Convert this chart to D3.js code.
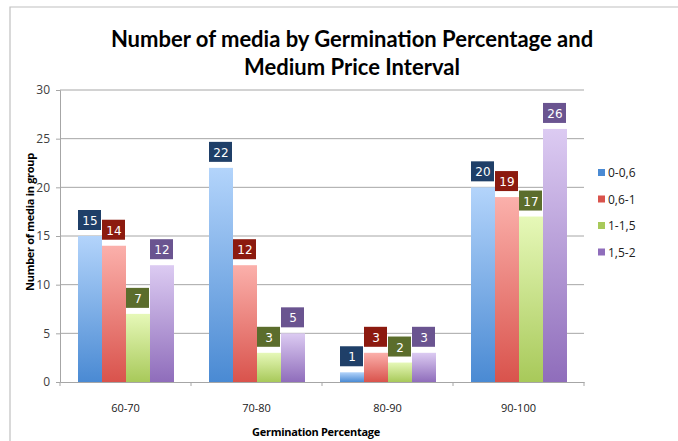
<!DOCTYPE html>
<html>
<head>
<meta charset="utf-8">
<script src="https://cdn.jsdelivr.net/npm/d3@7"></script>
<style>
  body { margin: 0; background: #ffffff; }
  svg { display: block; }
</style>
</head>
<body>
<svg id="chart" width="678" height="441"></svg>
<script>
// chart data
var categories = ["60-70", "70-80", "80-90", "90-100"];
var seriesNames = ["0-0,6", "0,6-1", "1-1,5", "1,5-2"];
var seriesValues = [
    [15, 22, 1, 20],   // 0-0,6
    [14, 12, 3, 19],   // 0,6-1
    [7, 3, 2, 17],     // 1-1,5
    [12, 5, 3, 26]     // 1,5-2
];
var yTicks = [0, 5, 10, 15, 20, 25, 30];

// colours: top of gradient, bottom of gradient, label box
var palette = [
    { top: "#b3d4fb", bottom: "#4a8ad3", box: "#1f3f68" },
    { top: "#fbb0ab", bottom: "#d9534c", box: "#8c1a0f" },
    { top: "#e6f8b8", bottom: "#a8c95a", box: "#5b6d2c" },
    { top: "#dccbf2", bottom: "#8f6dbb", box: "#6a5490" }
];

var svg = d3.select("#chart");

var margin = { left: 60, right: 94, top: 90, bottom: 59 };
var W = 678, H = 441;
var plotW = W - margin.left - margin.right;
var plotH = H - margin.top - margin.bottom;

// outer frame
svg.append("path")
    .attr("d", "M10,441 L10,7 L678,7")
    .attr("fill", "none")
    .attr("stroke", "#c0c0c0")
    .attr("stroke-width", 1.2);

// gradients
var defs = svg.append("defs");
palette.forEach(function(p, i){
    var g = defs.append("linearGradient")
        .attr("id", "grad" + i)
        .attr("x1", 0).attr("y1", 0).attr("x2", 0).attr("y2", 1);
    g.append("stop").attr("offset", "0%").attr("stop-color", p.top);
    g.append("stop").attr("offset", "100%").attr("stop-color", p.bottom);
});

// title
var title = svg.append("text")
    .attr("x", 352)
    .attr("text-anchor", "middle")
    .attr("font-family", "Lato, 'Open Sans', sans-serif")
    .attr("font-weight", "bold")
    .attr("font-size", 22)
    .attr("fill", "#000");
title.append("tspan").attr("x", 352).attr("y", 47).text("Number of media by Germination Percentage and");
title.append("tspan").attr("x", 352).attr("y", 75).text("Medium Price Interval");

var g = svg.append("g").attr("transform", "translate(" + margin.left + "," + margin.top + ")");

var x0 = d3.scaleBand().domain(categories).range([0, plotW]).paddingInner(0).paddingOuter(0);
var y = d3.scaleLinear().domain([0, 30]).range([plotH, 0]);
var x1 = d3.scaleBand().domain(d3.range(seriesNames.length))
    .range([18, x0.bandwidth() - 17]).padding(0);

// gridlines
g.selectAll(".grid")
    .data(yTicks.filter(function(d){ return d > 0; }))
    .enter().append("line")
    .attr("x1", 0).attr("x2", plotW)
    .attr("y1", function(d){ return y(d); })
    .attr("y2", function(d){ return y(d); })
    .attr("stroke", "#a6a6a6")
    .attr("stroke-width", 1);

// y axis
var yAxis = g.append("g")
    .call(d3.axisLeft(y).tickValues(yTicks).tickSize(4).tickPadding(6));
yAxis.select(".domain").attr("stroke", "#a6a6a6");
yAxis.selectAll(".tick line").attr("stroke", "#a6a6a6");
yAxis.selectAll("text")
    .attr("font-family", "'Open Sans', sans-serif")
    .attr("font-size", 12)
    .attr("fill", "#404040");

// x axis
var xAxis = g.append("g")
    .attr("transform", "translate(0," + plotH + ")")
    .call(d3.axisBottom(x0).tickSize(0).tickPadding(22));
xAxis.select(".domain").attr("stroke", "#a6a6a6");
xAxis.selectAll("text")
    .attr("font-family", "'Open Sans', sans-serif")
    .attr("font-size", 11)
    .attr("fill", "#202020");
// category boundary ticks
g.selectAll(".xtick")
    .data(d3.range(categories.length + 1))
    .enter().append("line")
    .attr("x1", function(i){ return i * x0.bandwidth(); })
    .attr("x2", function(i){ return i * x0.bandwidth(); })
    .attr("y1", plotH).attr("y2", plotH + 4)
    .attr("stroke", "#a6a6a6");

// bars + labels
seriesNames.forEach(function(name, s){
    var ser = g.append("g");
    ser.selectAll("rect.bar")
        .data(seriesValues[s])
        .enter().append("rect")
        .attr("class", "bar")
        .attr("x", function(d, i){ return x0(categories[i]) + x1(s); })
        .attr("y", function(d){ return y(d); })
        .attr("width", x1.bandwidth())
        .attr("height", function(d){ return plotH - y(d); })
        .attr("fill", "url(#grad" + s + ")");

    ser.selectAll("rect.box")
        .data(seriesValues[s])
        .enter().append("rect")
        .attr("class", "box")
        .attr("x", function(d, i){ return x0(categories[i]) + x1(s); })
        .attr("y", function(d){ return y(d) - 26; })
        .attr("width", x1.bandwidth() - 1)
        .attr("height", 20)
        .attr("fill", palette[s].box);

    ser.selectAll("text.val")
        .data(seriesValues[s])
        .enter().append("text")
        .attr("class", "val")
        .attr("x", function(d, i){ return x0(categories[i]) + x1(s) + x1.bandwidth() / 2; })
        .attr("y", function(d){ return y(d) - 11; })
        .attr("text-anchor", "middle")
        .attr("font-family", "'DejaVu Sans', sans-serif")
        .attr("font-size", 12)
        .attr("fill", "#ffffff")
        .text(function(d){ return d; });
});

// axis titles
svg.append("text")
    .attr("transform", "translate(34," + (margin.top + plotH / 2 - 14) + ") rotate(-90)")
    .attr("text-anchor", "middle")
    .attr("font-family", "'Open Sans', sans-serif")
    .attr("font-weight", "bold")
    .attr("font-size", 11)
    .attr("letter-spacing", -0.3)
    .text("Number of media in group");

svg.append("text")
    .attr("x", 316)
    .attr("y", 436)
    .attr("text-anchor", "middle")
    .attr("font-family", "'Open Sans', sans-serif")
    .attr("font-weight", "bold")
    .attr("font-size", 11)
    .attr("letter-spacing", -0.3)
    .text("Germination Percentage");

// legend
var legend = svg.append("g").attr("transform", "translate(598,173)");
var items = legend.selectAll("g")
    .data(seriesNames)
    .enter().append("g")
    .attr("transform", function(d, i){ return "translate(0," + (i * 26.5) + ")"; });
items.append("rect")
    .attr("x", 0).attr("y", -4)
    .attr("width", 7).attr("height", 7)
    .attr("fill", function(d, i){ return palette[i].bottom; });
items.append("text")
    .attr("x", 10).attr("y", 4)
    .attr("font-family", "'Open Sans', sans-serif")
    .attr("font-size", 12)
    .attr("fill", "#202020")
    .text(function(d){ return d; });
</script>
</body>
</html>
